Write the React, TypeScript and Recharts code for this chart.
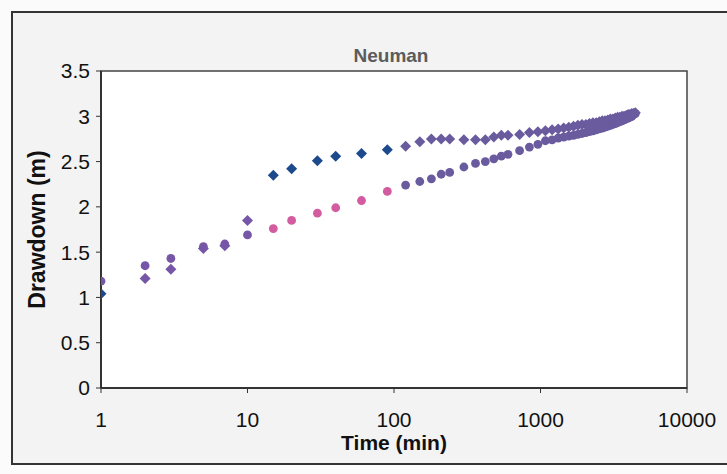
import React from "react";
import {
  ScatterChart,
  Scatter,
  XAxis,
  YAxis,
  CartesianGrid,
  ReferenceArea,
} from "recharts";

// elapsed time since pumping started (min)
const times = [
  1, 2, 3, 5, 7, 10, 15, 20, 30, 40, 60, 90, 120, 150, 180, 210, 240, 300,
  360, 420, 480, 540, 600, 720, 840, 960, 1080, 1200, 1320, 1440, 1560, 1680,
  1800, 1920, 2040, 2160, 2280, 2400, 2520, 2640, 2760, 2880, 3000, 3120,
  3240, 3360, 3480, 3600, 3720, 3840, 3960, 4080, 4200, 4320, 4440,
];

// observed drawdown (m) - diamonds
const observed = [
  1.04, 1.21, 1.31, 1.54, 1.57, 1.85, 2.35, 2.42, 2.51, 2.56, 2.59, 2.63,
  2.67, 2.72, 2.75, 2.75, 2.75, 2.74, 2.74, 2.74, 2.77, 2.79, 2.79, 2.8, 2.82,
  2.83, 2.84, 2.85, 2.86, 2.87, 2.88, 2.89, 2.9, 2.91, 2.91, 2.92, 2.93, 2.93,
  2.94, 2.95, 2.95, 2.96, 2.97, 2.97, 2.98, 2.99, 2.99, 3.0, 3.0, 3.01, 3.02,
  3.02, 3.03, 3.03, 3.04,
];

// Neuman type curve fit (m) - circles
const neuman = [
  1.18, 1.35, 1.43, 1.56, 1.59, 1.69, 1.76, 1.85, 1.93, 1.99, 2.07, 2.17,
  2.24, 2.28, 2.31, 2.36, 2.38, 2.44, 2.48, 2.5, 2.53, 2.56, 2.58, 2.62, 2.66,
  2.69, 2.73, 2.74, 2.76, 2.77, 2.78, 2.79, 2.8, 2.81, 2.82, 2.83, 2.84, 2.85,
  2.86, 2.87, 2.88, 2.89, 2.9, 2.91, 2.92, 2.93, 2.94, 2.95, 2.96, 2.97, 2.98,
  2.99, 3.0, 3.02, 3.03,
];

const xTicks = [1, 10, 100, 1000, 10000];
const yTicks = [0, 0.5, 1, 1.5, 2, 2.5, 3, 3.5];

const observedData = times.map((t, i) => ({ t, s: observed[i] }));
const neumanData = times.map((t, i) => ({ t, s: neuman[i] }));

const PURPLE = "#6a5b9f";
const EARLY = "#7656a6";

const diamondColor = (t: number) =>
  t === 1 || (t >= 15 && t <= 90) ? "#1d4a8c" : t <= 10 ? EARLY : PURPLE;
const circleColor = (t: number) =>
  t >= 15 && t <= 90 ? "#d35ba0" : t <= 10 ? EARLY : PURPLE;

const Diamond = (props: any) => {
  const { cx, cy, payload } = props;
  if (cx == null || cy == null) return null;
  const r = 5.5;
  return (
    <polygon
      points={`${cx},${cy - r} ${cx + r},${cy} ${cx},${cy + r} ${cx - r},${cy}`}
      fill={diamondColor(payload.t)}
    />
  );
};

const Dot = (props: any) => {
  const { cx, cy, payload } = props;
  if (cx == null || cy == null) return null;
  return <circle cx={cx} cy={cy} r={4.4} fill={circleColor(payload.t)} />;
};

const font = "'Liberation Sans', Arial, sans-serif";

export default function App() {
  return (
    <div
      style={{
        position: "absolute",
        left: 0,
        top: 0,
        width: 727,
        height: 474,
        overflow: "hidden",
        background: "#fbfbfb",
        fontFamily: font,
      }}
    >
      <div
        style={{
          position: "absolute",
          left: 11,
          top: 11,
          width: 740,
          height: 450,
          border: "2px solid #333",
          background: "#f3f3f3",
        }}
      />
      <div
        style={{
          position: "absolute",
          left: 291,
          top: 46,
          width: 200,
          textAlign: "center",
          fontSize: 19,
          lineHeight: "19px",
          fontWeight: "bold",
          color: "#5c5c5c",
        }}
      >
        Neuman
      </div>
      <div style={{ position: "absolute", left: 0, top: 0 }}>
        <ScatterChart
          width={727}
          height={474}
          margin={{ top: 71, right: 40, bottom: 0, left: 0 }}
        >
          <CartesianGrid horizontal={false} vertical={false} fill="#ffffff" />
          <XAxis
            dataKey="t"
            type="number"
            scale="log"
            domain={[1, 10000]}
            ticks={xTicks}
            allowDataOverflow
            height={86}
            tickSize={5}
            tickMargin={19}
            tick={{ fontSize: 21, fill: "#111", fontFamily: font }}
            axisLine={{ stroke: "#333", strokeWidth: 2 }}
            tickLine={{ stroke: "#333" }}
            label={{
              value: "Time (min)",
              position: "insideBottom",
              offset: 24,
              style: {
                fontSize: 21,
                fontWeight: "bold",
                fill: "#111",
                fontFamily: font,
              },
            }}
          />
          <YAxis
            dataKey="s"
            type="number"
            domain={[0, 3.5]}
            ticks={yTicks}
            width={101}
            tickSize={5}
            tickMargin={6}
            tick={{ fontSize: 21, fill: "#111", fontFamily: font }}
            axisLine={{ stroke: "#333", strokeWidth: 2 }}
            tickLine={{ stroke: "#333" }}
            label={{
              value: "Drawdown (m)",
              angle: -90,
              position: "insideLeft",
              offset: 37,
              style: {
                textAnchor: "middle",
                fontSize: 23,
                fontWeight: "bold",
                fill: "#111",
                fontFamily: font,
              },
            }}
          />
          <ReferenceArea
            x1={1}
            x2={10000}
            y1={0}
            y2={3.5}
            fill="none"
            stroke="#444"
            strokeWidth={1.5}
          />
          <Scatter
            data={neumanData}
            dataKey="s"
            shape={Dot}
            isAnimationActive={false}
          />
          <Scatter
            data={observedData}
            dataKey="s"
            shape={Diamond}
            isAnimationActive={false}
          />
        </ScatterChart>
      </div>
    </div>
  );
}
